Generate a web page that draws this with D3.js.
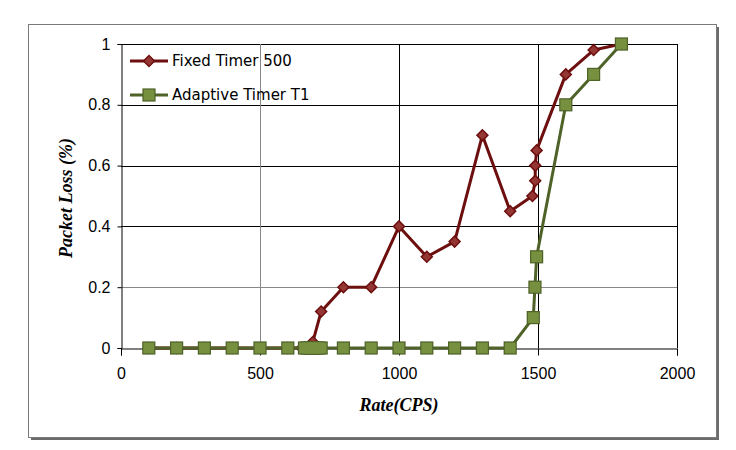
<!DOCTYPE html>
<head>
  <meta charset="utf-8">
  <script src="https://d3js.org/d3.v7.min.js"></script>
  <style>
    body { margin:0; background:#fff; }
    svg { display:block; }
  </style>
</head>
<body>
  <svg width="736" height="450"></svg>
  <script>
    // Fixed Timer 500 series
    var fixedRate = [100, 200, 300, 400, 500, 600, 650, 680, 690, 720, 800, 900, 1000, 1100, 1200, 1300, 1400, 1480, 1490, 1490, 1495, 1600, 1700, 1800];
    var fixedLoss = [0, 0, 0, 0, 0, 0, 0, 0, 0.02, 0.12, 0.2, 0.2, 0.4, 0.3, 0.35, 0.7, 0.45, 0.5, 0.55, 0.6, 0.65, 0.9, 0.98, 1];
    // Adaptive Timer T1 series
    var adaptRate = [100, 200, 300, 400, 500, 600, 660, 670, 680, 690, 700, 710, 720, 800, 900, 1000, 1100, 1200, 1300, 1400, 1483, 1489, 1495, 1600, 1700, 1800];
    var adaptLoss = [0, 0, 0, 0, 0, 0, 0, 0, 0, 0, 0, 0, 0, 0, 0, 0, 0, 0, 0, 0, 0.1, 0.2, 0.3, 0.8, 0.9, 1];

    var xTicks = [0, 500, 1000, 1500, 2000];
    var yTicks = [0, 0.2, 0.4, 0.6, 0.8, 1];
    var seriesNames = ['Fixed Timer 500', 'Adaptive Timer T1'];

    var svg = d3.select('svg');

    // frame with shadow
    svg.append('rect').attr('x', 31).attr('y', 27).attr('width', 688).attr('height', 413).attr('fill', '#6b6b6b');
    svg.append('rect').attr('x', 28.5).attr('y', 24.5).attr('width', 688).attr('height', 413)
      .attr('fill', '#fff').attr('stroke', '#7a7a7a').attr('stroke-width', 1);

    var x = d3.scaleLinear().domain([0, 2000]).range([121, 677]);
    var y = d3.scaleLinear().domain([0, 1]).range([348, 44]);

    // gridlines
    svg.append('g').selectAll('line').data(yTicks.filter(d => d > 0)).enter().append('line')
      .attr('x1', x(0)).attr('x2', x(2000))
      .attr('y1', d => Math.round(y(d)) + 0.5).attr('y2', d => Math.round(y(d)) + 0.5)
      .attr('stroke', d => d === 0.2 ? '#888' : '#000').attr('stroke-width', 1);
    svg.append('g').selectAll('line').data(xTicks.filter(d => d > 0)).enter().append('line')
      .attr('y1', y(0)).attr('y2', y(1))
      .attr('x1', d => Math.round(x(d)) + 0.5).attr('x2', d => Math.round(x(d)) + 0.5)
      .attr('stroke', d => d === 500 ? '#888' : '#000').attr('stroke-width', 1);

    var xAxis = d3.axisBottom(x).tickValues(xTicks).tickSize(7).tickPadding(12).tickFormat(d3.format('d'));
    var yAxis = d3.axisLeft(y).tickValues(yTicks).tickSize(4).tickPadding(7).tickFormat(d => String(d));

    var gx = svg.append('g').attr('transform', 'translate(0,' + (Math.round(y(0)) + 0.5) + ')').call(xAxis);
    var gy = svg.append('g').attr('transform', 'translate(' + (Math.round(x(0)) + 0.5) + ',0)').call(yAxis);
    [gx, gy].forEach(g => {
      g.select('.domain').attr('stroke', '#000');
      g.selectAll('.tick line').attr('stroke', '#000');
      g.selectAll('text').attr('font-family', 'Liberation Sans, Arial, sans-serif')
        .attr('font-size', 16).attr('fill', '#000');
    });

    // axis titles
    svg.append('text').attr('x', 399).attr('y', 411).attr('text-anchor', 'middle')
      .attr('font-family', 'Liberation Serif, Times New Roman, serif').attr('font-size', 18)
      .attr('font-weight', 'bold').attr('font-style', 'italic').text('Rate(CPS)');
    svg.append('text').attr('transform', 'translate(72,198) rotate(-90)').attr('text-anchor', 'middle')
      .attr('font-family', 'Liberation Serif, Times New Roman, serif').attr('font-size', 18)
      .attr('font-weight', 'bold').attr('font-style', 'italic').text('Packet Loss (%)');

    var fixed = fixedRate.map((r, i) => [r, fixedLoss[i]]);
    var adapt = adaptRate.map((r, i) => [r, adaptLoss[i]]);
    var line = d3.line().x(d => x(d[0])).y(d => y(d[1]));

    var redLine = '#6d0f0f', redFill = '#943634', redStroke = '#6d0f0f';
    var grnLine = '#4f6228', grnFill = '#77903f', grnStroke = '#4f6228';

    // Fixed timer series (drawn first, under squares)
    svg.append('path').datum(fixed).attr('d', line).attr('fill', 'none')
      .attr('stroke', redLine).attr('stroke-width', 3).attr('stroke-linejoin', 'round');
    svg.append('g').selectAll('path').data(fixed).enter().append('path')
      .attr('d', d3.symbol().type(d3.symbolSquare).size(60))
      .attr('transform', d => 'translate(' + x(d[0]) + ',' + y(d[1]) + ') rotate(45)')
      .attr('fill', redFill).attr('stroke', redStroke).attr('stroke-width', 1.5);

    // Adaptive timer series: outline pass then fill pass so clustered markers merge
    svg.append('path').datum(adapt).attr('d', line).attr('fill', 'none')
      .attr('stroke', grnLine).attr('stroke-width', 3).attr('stroke-linejoin', 'round');
    svg.append('g').selectAll('rect').data(adapt).enter().append('rect')
      .attr('x', d => x(d[0]) - 6.6).attr('y', d => y(d[1]) - 6.6)
      .attr('width', 13.2).attr('height', 13.2).attr('fill', grnStroke);
    svg.append('g').selectAll('rect').data(adapt).enter().append('rect')
      .attr('x', d => x(d[0]) - 5.4).attr('y', d => y(d[1]) - 5.4)
      .attr('width', 10.8).attr('height', 10.8).attr('fill', grnFill);

    // legend
    var legend = svg.append('g');
    [61, 95].forEach((ly, i) => {
      legend.append('line').attr('x1', 130).attr('x2', 168).attr('y1', ly).attr('y2', ly)
        .attr('stroke', i === 0 ? redLine : grnLine).attr('stroke-width', 3);
      if (i === 0) {
        legend.append('path').attr('d', d3.symbol().type(d3.symbolSquare).size(60))
          .attr('transform', 'translate(149,' + ly + ') rotate(45)')
          .attr('fill', redFill).attr('stroke', redStroke).attr('stroke-width', 1.5);
      } else {
        legend.append('rect').attr('x', 143).attr('y', ly - 6).attr('width', 12).attr('height', 12)
          .attr('fill', grnFill).attr('stroke', grnStroke).attr('stroke-width', 1.2);
      }
      legend.append('text').attr('x', 172).attr('y', ly + 5)
        .attr('font-family', 'DejaVu Sans, Verdana, sans-serif').attr('font-size', 15)
        .text(seriesNames[i]);
    });
  </script>
</body>
